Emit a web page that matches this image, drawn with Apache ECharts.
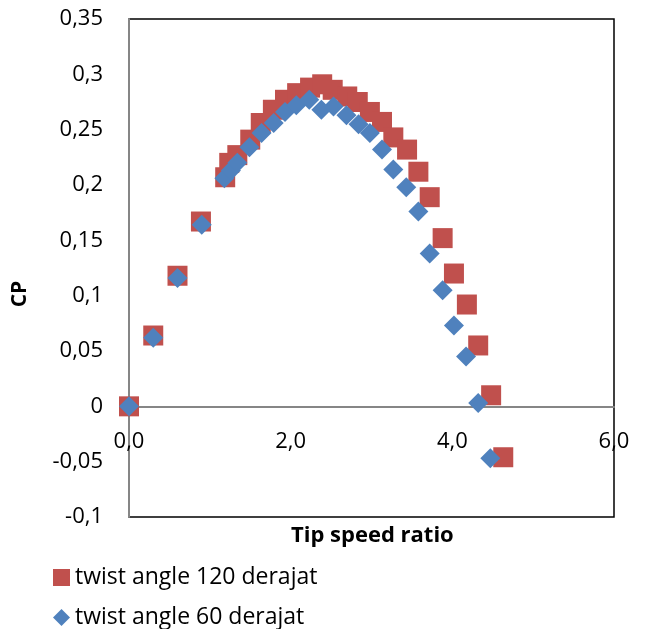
<!DOCTYPE html>
<html>
<head>
<meta charset="utf-8">
<script src="https://cdn.jsdelivr.net/npm/echarts@6/dist/echarts.min.js"></script>
<style>html,body{margin:0;padding:0;background:#fff}#c{width:646px;height:629px}</style>
</head>
<body>
<div id="c"></div>
<script>
var seriesNames = ['twist angle 120 derajat', 'twist angle 60 derajat'];
var tsr120 = [0, 0.30, 0.60, 0.89, 1.19, 1.24, 1.34, 1.50, 1.63, 1.78, 1.93, 2.08, 2.24, 2.39, 2.52, 2.70, 2.83, 2.98, 3.13, 3.27, 3.44, 3.58, 3.72, 3.88, 4.02, 4.18, 4.32, 4.48, 4.63];
var cp120  = [0, 0.064, 0.118, 0.167, 0.207, 0.220, 0.227, 0.241, 0.256, 0.268, 0.277, 0.283, 0.288, 0.291, 0.286, 0.280, 0.275, 0.266, 0.257, 0.243, 0.232, 0.212, 0.189, 0.152, 0.120, 0.092, 0.055, 0.010, -0.046];
var tsr60 = [0, 0.30, 0.60, 0.90, 1.18, 1.26, 1.34, 1.49, 1.64, 1.79, 1.93, 2.07, 2.23, 2.38, 2.53, 2.69, 2.84, 2.98, 3.13, 3.27, 3.43, 3.58, 3.72, 3.88, 4.02, 4.17, 4.32, 4.47];
var cp60  = [0, 0.062, 0.116, 0.164, 0.206, 0.213, 0.220, 0.234, 0.247, 0.256, 0.266, 0.272, 0.277, 0.268, 0.271, 0.263, 0.255, 0.247, 0.232, 0.214, 0.198, 0.176, 0.138, 0.105, 0.073, 0.045, 0.003, -0.047];
var xTitle = 'Tip speed ratio';
var yTitle = 'CP';

function pairs(xs, ys) { return xs.map(function (x, i) { return [x, ys[i]]; }); }
var FONT = '"Open Sans", "DejaVu Sans", sans-serif';

var GRID_TOP = 19, GRID_BOTTOM = 112, H = 629;
var Y_MIN = -0.1, Y_MAX = 0.35;
var plotH = H - GRID_TOP - GRID_BOTTOM;
var zeroOffset = -plotH * (0 - Y_MIN) / (Y_MAX - Y_MIN); // move x axis up to y = 0

var legendText = { fontSize: 23, color: '#000', fontFamily: FONT, lineHeight: 23 };

var chart = echarts.init(document.getElementById('c'), null, { renderer: 'canvas' });
chart.setOption({
  animation: false,
  textStyle: { fontFamily: FONT },
  grid: { left: 129, right: 32, top: GRID_TOP, bottom: GRID_BOTTOM, show: true, borderColor: '#000', borderWidth: 1.5,
          containLabel: false, outerBoundsMode: 'none' },
  legend: [
    { orient: 'horizontal', left: 53, top: 566, itemWidth: 17, itemHeight: 17, itemGap: 6, padding: 0,
      textStyle: legendText, data: [{ name: seriesNames[0], icon: 'rect' }] },
    { orient: 'horizontal', left: 53, top: 606, itemWidth: 17, itemHeight: 17, itemGap: 6, padding: 0,
      textStyle: legendText, data: [{ name: seriesNames[1], icon: 'diamond' }] }
  ],
  graphic: [
    { type: 'text', left: 376 - 85, top: 525, z: 10,
      style: { text: xTitle, font: 'bold 22px ' + FONT, fill: '#000' } },
    { type: 'text', x: 20, y: 294, rotation: Math.PI / 2, z: 10,
      style: { text: yTitle, font: 'bold 21px ' + FONT, fill: '#000', align: 'center', verticalAlign: 'middle' } }
  ],
  xAxis: {
    type: 'value', min: 0, max: 6, interval: 2,
    offset: zeroOffset,
    axisLine: { onZero: false, lineStyle: { color: '#868686', width: 2 } },
    axisTick: { show: false },
    splitLine: { show: false },
    axisLabel: { fontSize: 22, color: '#000', margin: 24, fontFamily: FONT,
      formatter: function (v) { return v.toFixed(1).replace('.', ','); } }
  },
  yAxis: {
    type: 'value', min: Y_MIN, max: Y_MAX, interval: 0.05,
    axisLine: { show: true, onZero: false, lineStyle: { color: '#868686', width: 2 } },
    axisTick: { show: false },
    splitLine: { show: false },
    axisLabel: { fontSize: 22, color: '#000', margin: 26, fontFamily: FONT,
      formatter: function (v) { return String(Number(v.toFixed(2))).replace('.', ','); } }
  },
  series: [
    { name: seriesNames[0], type: 'scatter', symbol: 'rect', symbolSize: 20, clip: false,
      itemStyle: { color: '#C0504D', opacity: 1 }, data: pairs(tsr120, cp120) },
    { name: seriesNames[1], type: 'scatter', symbol: 'diamond', symbolSize: 20, clip: false,
      itemStyle: { color: '#4F81BD', opacity: 1 }, data: pairs(tsr60, cp60) }
  ]
});
</script>
</body>
</html>
